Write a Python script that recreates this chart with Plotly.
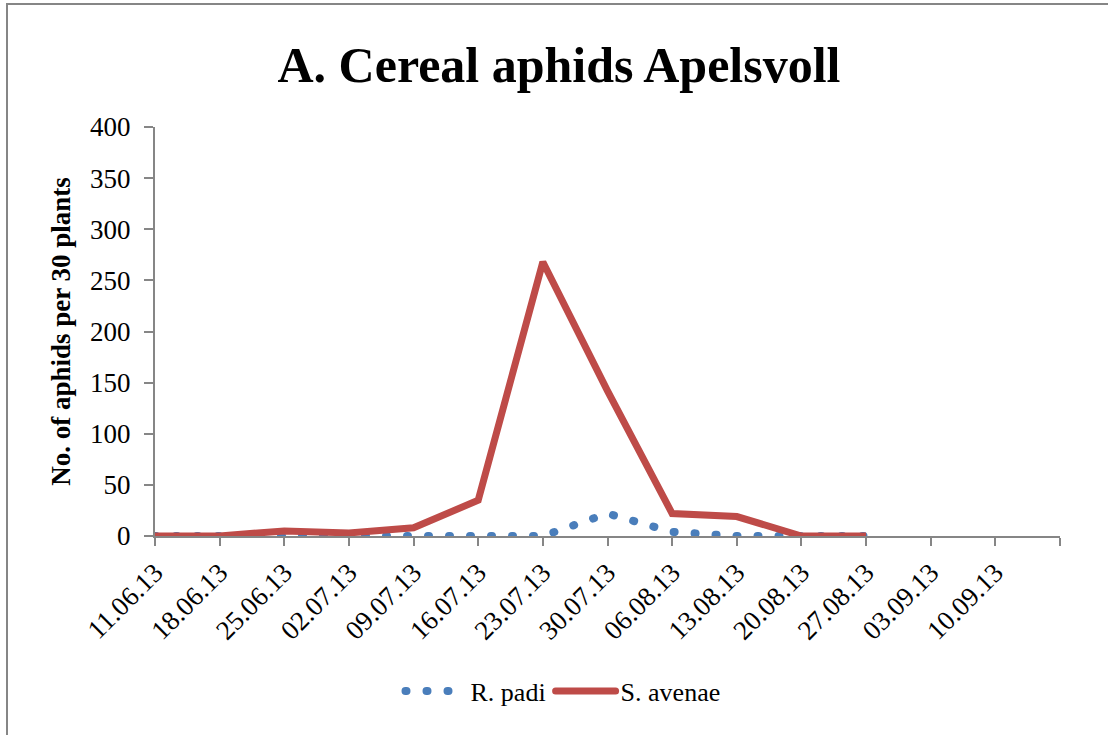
import plotly.graph_objects as go

dates = ["2013-06-11", "2013-06-18", "2013-06-25", "2013-07-02", "2013-07-09",
         "2013-07-16", "2013-07-23", "2013-07-30", "2013-08-06", "2013-08-13",
         "2013-08-20", "2013-08-27"]
r_padi = [0, 0, 0, 0, 0, 0, 0, 22, 4, 0, 0, 0]
s_avenae = [0, 0, 5, 3, 8, 35, 268, 142, 22, 19, 0, 0]

tick_dates = ["2013-06-11", "2013-06-18", "2013-06-25", "2013-07-02", "2013-07-09",
              "2013-07-16", "2013-07-23", "2013-07-30", "2013-08-06", "2013-08-13",
              "2013-08-20", "2013-08-27", "2013-09-03", "2013-09-10", "2013-09-17"]
tick_labels = ["11.06.13", "18.06.13", "25.06.13", "02.07.13", "09.07.13",
               "16.07.13", "23.07.13", "30.07.13", "06.08.13", "13.08.13",
               "20.08.13", "27.08.13", "03.09.13", "10.09.13", ""]

serif = "Liberation Serif"

fig = go.Figure()
fig.add_trace(go.Scatter(x=dates, y=r_padi, name="R. padi", mode="lines",
                         line=dict(color="#4A7EBB", width=8, dash="1px,20px")))
fig.add_trace(go.Scatter(x=dates, y=s_avenae, name="S. avenae", mode="lines",
                         line=dict(color="#BE4B48", width=7)))

W, H = 1108, 735
L, R, T, B = 155, 1060, 127, 536

fig.update_layout(
    width=W, height=H,
    margin=dict(l=L, r=W - R, t=T, b=H - B),
    paper_bgcolor="white", plot_bgcolor="white",
    font=dict(family=serif, color="black", size=22),
    title=dict(text="<b>A. Cereal aphids Apelsvoll</b>", x=(275 + 843) / 2 / W,
               xanchor="center", y=1 - 64 / H, yanchor="middle", yref="container",
               font=dict(family=serif, size=50, color="black")),
    xaxis=dict(type="date", range=["2013-06-11", "2013-09-17"],
               tickvals=tick_dates, ticktext=tick_labels, tickangle=-45,
               showgrid=False, zeroline=False, showline=True, linecolor="#868686",
               linewidth=2, ticks="outside", ticklen=8, tickcolor="#868686",
               tickwidth=2, tickfont=dict(size=27)),
    yaxis=dict(range=[0, 400], dtick=50, showgrid=False, zeroline=False,
               showline=True, linecolor="#868686", linewidth=2, ticks="outside",
               ticklen=9, tickcolor="#868686", tickwidth=2, tickfont=dict(size=27),
               ticklabelstandoff=8,
               title=dict(text="<b>No. of aphids per 30 plants</b>", standoff=12,
                          font=dict(size=27))),
    showlegend=True,
    legend=dict(orientation="h", x=(563 - L) / (R - L), xanchor="center",
                y=(B - 691) / (B - T), yanchor="middle", font=dict(size=26),
                itemwidth=60),
)

fig.add_shape(type="rect", xref="paper", yref="paper",
              x0=(7 - L) / (R - L), x1=(W + 20 - L) / (R - L),
              y0=(B - (H + 20)) / (B - T), y1=(B - 4) / (B - T),
              line=dict(color="#868686", width=2), fillcolor="rgba(0,0,0,0)",
              layer="below")

post = """
document.body.style.margin = '0';
document.body.style.padding = '0';
function fixCaps(){
  var traces = document.querySelectorAll('.scatterlayer .trace');
  if (traces.length) {
    traces[0].querySelectorAll('path.js-line').forEach(function(p){p.style.strokeLinecap='round';});
  }
  var lt = document.querySelectorAll('.legend .traces');
  if (lt.length) {
    lt[0].querySelectorAll('path.js-line').forEach(function(p){p.style.strokeLinecap='round';});
    lt[1] && lt[1].querySelectorAll('path.js-line').forEach(function(p){p.style.strokeLinecap='round';});
  }
}
fixCaps();
var gd = document.getElementsByClassName('plotly-graph-div')[0];
if (gd && gd.on) { gd.on('plotly_afterplot', fixCaps); }
"""

fig.write_html("out.html", post_script=post, config={"displayModeBar": False})
